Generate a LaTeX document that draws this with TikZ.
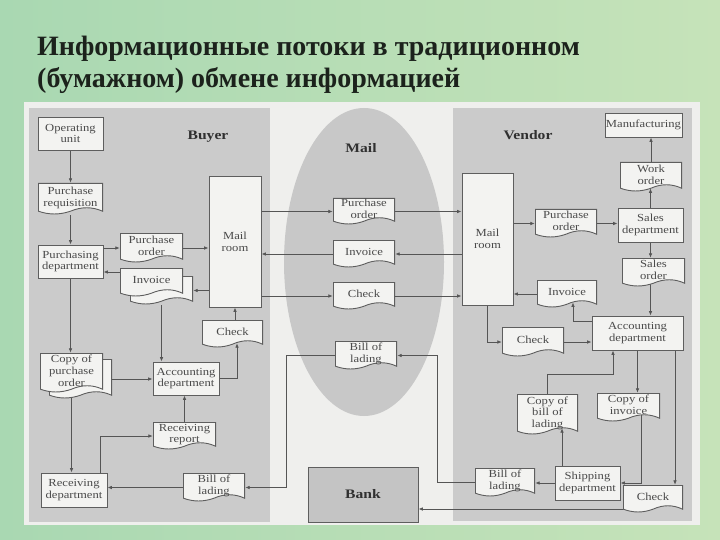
\documentclass[tikz,border=0pt]{standalone}
\usepackage{fontspec}
\setmainfont{Liberation Serif}
\newfontfamily\boxfamily[FakeStretch=1.17]{Liberation Serif}
\newfontfamily\labfamily[FakeStretch=1.2]{Liberation Serif}
\newfontfamily\titlefamily{Liberation Serif}
\usetikzlibrary{arrows.meta,calc}
\pgfdeclarelayer{bg}
\pgfdeclarelayer{lines}
\pgfsetlayers{bg,lines,main}
\definecolor{bgA}{HTML}{A9D8B2}
\definecolor{bgB}{HTML}{C6E3B9}
\definecolor{paper}{HTML}{EFEFED}
\definecolor{panel}{HTML}{CBCBCB}
\definecolor{mailgray}{HTML}{C8C8C8}
\definecolor{boxfill}{HTML}{F3F3F1}
\definecolor{boxline}{HTML}{5E5E5E}
\definecolor{lncol}{HTML}{555555}
\definecolor{txt}{HTML}{4A4A4A}
\definecolor{labtxt}{HTML}{303030}
\definecolor{titletxt}{HTML}{1C221C}
\definecolor{bankfill}{HTML}{C4C4C4}
\begin{document}
\begin{tikzpicture}[x=1pt,y=-1pt,
  box/.style={rectangle, draw=boxline, fill=boxfill, line width=0.9pt, align=center,
    inner sep=0pt, font=\boxfamily\fontsize{10.8}{11.8}\selectfont, text=txt},
  doc/.style={rectangle, align=center, inner sep=0pt, text depth=5pt,
    font=\boxfamily\fontsize{10.8}{11.8}\selectfont, text=txt,
    path picture={
      \filldraw[fill=boxfill, draw=boxline, line width=0.9pt]
        let \p1=(path picture bounding box.south west),
            \p2=(path picture bounding box.north east),
            \n1={\x2-\x1} in
        (\x1+0.45pt,\y2-0.45pt) -- (\x2-0.45pt,\y2-0.45pt) -- (\x2-0.45pt,\y1+3.8pt)
        .. controls (\x2-\n1/6,\y1+8.4pt) and (\x2-\n1/3,\y1+8.4pt) .. (\x1+\n1/2,\y1+3.8pt)
        .. controls (\x1+\n1/3,\y1+0.1pt) and (\x1+\n1/6,\y1+0.1pt) .. (\x1+0.45pt,\y1+3.8pt)
        -- cycle;
    }},
  lab/.style={font=\labfamily\bfseries\fontsize{13}{15}\selectfont, text=labtxt, inner sep=0pt},
  arr/.style={draw=lncol, line width=0.8pt, -{Latex[length=4.5pt,width=3.6pt]}},
  ttl/.style={font=\titlefamily\bfseries\fontsize{28}{32}\selectfont, text=titletxt, inner sep=0pt, anchor=base west}
]
\path[use as bounding box] (0,0) rectangle (720,540);
\begin{pgfonlayer}{bg}
  \shade[left color=bgA, right color=bgB] (0,0) rectangle (720,540);
  \fill[paper] (24,102) rectangle (700,525);
  \fill[panel] (29,108) rectangle (270,522);
  \fill[panel] (453,108) rectangle (692,521);
  \fill[mailgray] (364,262) ellipse [x radius=80, y radius=154];
\end{pgfonlayer}

% title
\node[ttl] (title1) at (37,56) {Информационные потоки в традиционном};
\node[ttl] (title2) at (37,88) {(бумажном) обмене информацией};

% labels
\node[lab] (buyerlab) at (208,137) {Buyer};
\node[lab] (vendorlab) at (528,135) {Vendor};
\node[lab] (maillab) at (361,148) {Mail};

% Buyer
\node[box, minimum width=65pt, minimum height=33pt] (opunit) at (70.5,133.5) {Operating\\unit};
\node[doc, minimum width=65pt, minimum height=32pt] (preq) at (70.5,199) {Purchase\\requisition};
\node[box, minimum width=65pt, minimum height=33pt] (pdept) at (70.5,261.5) {Purchasing\\department};
\node[doc, minimum width=63pt, minimum height=30pt] (bpo) at (151.5,248) {Purchase\\order};
\node[doc, minimum width=63pt, minimum height=29pt] (binvb) at (161.5,290.5) {};
\node[doc, minimum width=63pt, minimum height=29pt] (binv) at (151.5,282.5) {Invoice};
\node[box, minimum width=52pt, minimum height=131pt] (bmail) at (235,241.5) {Mail\\room};
\node[doc, minimum width=61pt, minimum height=28pt] (bcheck) at (232.5,334) {Check};
\node[doc, minimum width=63pt, minimum height=40pt] (copypob) at (80.5,379) {};
\node[doc, minimum width=63pt, minimum height=40pt] (copypo) at (71.5,373) {Copy of\\purchase\\order};
\node[box, minimum width=66pt, minimum height=33pt] (bacct) at (186,378.5) {Accounting\\department};
\node[doc, minimum width=63pt, minimum height=28pt] (rrep) at (184.5,436) {Receiving\\report};
\node[box, minimum width=66pt, minimum height=34pt] (rdept) at (74,490) {Receiving\\department};
\node[doc, minimum width=62pt, minimum height=29pt] (bbol) at (214,487.5) {Bill of\\lading};

% Mail
\node[doc, minimum width=62pt, minimum height=27pt] (mpo) at (364,211.5) {Purchase\\order};
\node[doc, minimum width=62pt, minimum height=28pt] (minv) at (364,254) {Invoice};
\node[doc, minimum width=62pt, minimum height=28pt] (mcheck) at (364,296) {Check};
\node[doc, minimum width=62pt, minimum height=29pt] (mbol) at (366,355.5) {Bill of\\lading};
\node[box, fill=bankfill, minimum width=110pt, minimum height=55pt,
      font=\labfamily\bfseries\fontsize{13}{15}\selectfont, text=labtxt] (bank) at (363,494.5) {Bank};

% Vendor
\node[box, minimum width=51pt, minimum height=132pt] (vmail) at (487.5,239) {Mail\\room};
\node[doc, minimum width=62pt, minimum height=29pt] (vpo) at (566,223.5) {Purchase\\order};
\node[box, minimum width=77pt, minimum height=24pt] (manuf) at (643.5,125) {Manufacturing};
\node[doc, minimum width=62pt, minimum height=30pt] (work) at (651,177) {Work\\order};
\node[box, minimum width=65pt, minimum height=34pt] (sdept) at (650.5,225) {Sales\\department};
\node[doc, minimum width=63pt, minimum height=29pt] (sorder) at (653.5,272.5) {Sales\\order};
\node[doc, minimum width=60pt, minimum height=28pt] (vinv) at (567,294) {Invoice};
\node[box, minimum width=91pt, minimum height=34pt] (vacct) at (637.5,333) {Accounting\\department};
\node[doc, minimum width=62pt, minimum height=30pt] (vcheck) at (533,342) {Check};
\node[doc, minimum width=61pt, minimum height=41pt] (cbol) at (547.5,414.5) {Copy of\\bill of\\lading};
\node[doc, minimum width=63pt, minimum height=29pt] (cinv) at (628.5,407.5) {Copy of\\invoice};
\node[doc, minimum width=60pt, minimum height=29pt] (vbol) at (505,482.5) {Bill of\\lading};
\node[box, minimum width=65pt, minimum height=34pt] (ship) at (587.5,483) {Shipping\\department};
\node[doc, minimum width=60pt, minimum height=28pt] (vcheck2) at (653,499) {Check};

\begin{pgfonlayer}{lines}
  % buyer
  \draw[arr] (opunit.south) -- (preq.north);
  \draw[arr] (preq) -- (pdept.north);
  \draw[arr] (pdept.east |- bpo.west) -- (bpo.west);
  \draw[arr] (bpo.east) -- (bpo.east -| bmail.west);
  \draw[arr] ([yshift=10.5pt]binv.west) -- ([yshift=10.5pt]binv.west -| pdept.east);
  \draw[arr] (bmail.west |- binvb.east) -- (binvb.east);
  \draw[arr] (bmail.south |- bcheck.north) -- (bmail.south);
  \draw[arr] (pdept.south) -- (pdept.south |- copypo.north);
  \draw[arr] (binvb) -- (binvb |- bacct.north);
  \draw[arr] (copypob.east) -- (copypob.east -| bacct.west);
  \draw[arr] (bacct.east) -| ([xshift=4.5pt,yshift=5pt]bcheck.south);
  \draw[arr] (rrep.north) -- (rrep.north |- bacct.south);
  \draw[arr] (copypo) -- (copypo |- rdept.north);
  \draw[arr] ([xshift=26pt]rdept.north) |- (rrep.west);
  \draw[arr] (bbol.west) -- (bbol.west -| rdept.east);
  \draw[arr] (mbol.west) -- ++(-48,0) |- (bbol.east);
  % mail
  \draw[arr] (bmail.east |- mpo.west) -- (mpo.west);
  \draw[arr] (mpo.east) -- (mpo.east -| vmail.west);
  \draw[arr] (vmail.west |- minv.east) -- (minv.east);
  \draw[arr] (minv.west) -- (minv.west -| bmail.east);
  \draw[arr] (bmail.east |- mcheck.west) -- (mcheck.west);
  \draw[arr] (mcheck.east) -- (mcheck.east -| vmail.west);
  % vendor
  \draw[arr] (vmail.east |- vpo.west) -- (vpo.west);
  \draw[arr] (vpo.east) -- (vpo.east -| sdept.west);
  \draw[arr] (sdept.north) -- ([yshift=3.8pt]sdept.north |- work.south);
  \draw[arr] (work) -- (work |- manuf.south);
  \draw[arr] (sdept.south) -- (sdept.south |- sorder.north);
  \draw[arr] (sdept.south |- sorder) -- (sdept.south |- vacct.north);
  \draw[arr] (vinv.west) -- (vinv.west -| vmail.east);
  \draw[arr] ([yshift=12pt]vacct.west) -| ([xshift=6pt,yshift=5.8pt]vinv.south);
  \draw[arr] (vmail.south) |- (vcheck.west);
  \draw[arr] (vcheck.east) -- (vcheck.east -| vacct.west);
  \draw[arr] (vacct.south) -- (vacct.south |- cinv.north);
  \draw[arr] (cbol.north) -- ++(0,-19.5) -| ([xshift=-24.5pt]vacct.south);
  \draw[arr] ([xshift=-25.5pt]ship.north) -- ([xshift=-25.5pt,yshift=7pt]ship.north |- cbol.south);
  \draw[arr] ([xshift=12.5pt]cinv.center) |- (ship.east);
  \draw[arr] (ship.west) -- (ship.west -| vbol.east);
  \draw[arr] (vbol.west) -- ++(-37,0) |- (mbol.east);
  \draw[arr] ([xshift=37.5pt]vacct.south) -- ([xshift=37.5pt]vacct.south |- vcheck2.north);
  \draw[arr] ([xshift=5pt,yshift=-10pt]vcheck2.west) -- ([yshift=-10pt]vcheck2.west -| bank.east);
\end{pgfonlayer}
\end{tikzpicture}
\end{document}
